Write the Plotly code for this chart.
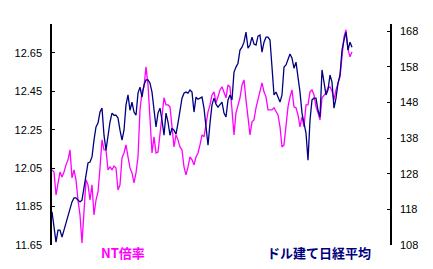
import plotly.graph_objects as go

# NT倍率 (left axis)
nt_ratio = [
    12.041, 12.030, 11.910, 11.978, 12.030, 12.004, 12.030, 12.067, 12.093, 12.145,
    11.999, 12.041, 11.989, 11.884, 11.806, 11.660, 11.858, 11.989, 11.963, 11.884,
    11.963, 11.806, 11.884, 11.926, 12.051, 12.197, 12.145, 12.145, 12.041, 12.056,
    12.041, 12.061, 12.051, 11.936, 11.963, 12.103, 12.129, 12.171, 12.108, 12.051,
    12.025, 11.973, 12.025, 12.108, 12.353, 12.447, 12.473, 12.577, 12.483, 12.301,
    12.129, 12.213, 12.129, 12.134, 12.233, 12.301, 12.416, 12.379, 12.379, 12.369,
    12.249, 12.160, 12.223, 12.197, 12.160, 12.145, 12.056, 12.015, 12.056, 12.108,
    12.093, 12.067, 12.108, 12.129, 12.171, 12.223, 12.213, 12.291, 12.343, 12.379,
    12.431, 12.447, 12.390, 12.421, 12.457, 12.473, 12.442, 12.416, 12.483, 12.473,
    12.353, 12.223, 12.338, 12.379, 12.416, 12.483, 12.509, 12.405, 12.317, 12.223,
    12.291, 12.301, 12.364, 12.405, 12.447, 12.494, 12.447, 12.421, 12.353, 12.353,
    12.353, 12.364, 12.343, 12.327, 12.265, 12.160, 12.171, 12.285, 12.369, 12.421,
    12.457, 12.369, 12.364, 12.327, 12.265, 12.317, 12.265, 12.379, 12.379, 12.447,
    12.457, 12.431, 12.369, 12.338, 12.301, 12.416, 12.431, 12.442, 12.468, 12.473,
    12.452, 12.405, 12.457, 12.499, 12.525, 12.629, 12.733, 12.770, 12.666, 12.629,
    12.655,
]

# ドル建て日経平均 (right axis)
nikkei_usd = [
    117.3, 113.0, 108.8, 112.2, 112.2, 110.2, 112.2, 113.6, 115.9, 117.8,
    120.1, 121.2, 121.2, 120.6, 120.1, 120.6, 124.0, 126.8, 131.0, 131.3,
    132.7, 137.4, 141.1, 142.2, 145.3, 146.4, 138.8, 134.6, 139.4, 142.5,
    145.0, 144.4, 144.4, 143.6, 140.2, 137.4, 140.2, 147.3, 150.1, 145.8,
    148.1, 145.3, 144.4, 150.6, 152.3, 149.5, 152.9, 154.3, 154.3, 153.4,
    150.9, 146.4, 141.1, 145.0, 146.4, 143.0, 138.8, 145.0, 142.5, 138.8,
    140.8, 140.2, 139.1, 142.2, 146.4, 149.2, 150.6, 150.9, 150.6, 151.5,
    150.9, 145.3, 149.5, 148.9, 149.2, 149.5, 146.4, 141.1, 136.0, 142.2,
    147.3, 149.2, 147.5, 146.7, 147.3, 148.1, 145.0, 143.9, 148.7, 150.1,
    148.7, 156.5, 157.9, 159.0, 162.7, 163.5, 164.9, 167.7, 163.2, 164.1,
    166.3, 164.4, 164.1, 166.6, 166.9, 162.1, 164.9, 166.3, 166.3, 165.5,
    157.9, 150.1, 150.9, 149.5, 148.1, 150.1, 157.9, 158.5, 160.4, 161.6,
    160.4, 157.6, 159.3, 155.7, 150.9, 145.0, 142.2, 139.4, 131.8, 143.0,
    148.7, 149.2, 149.2, 145.8, 143.9, 157.1, 153.7, 150.1, 151.5, 155.7,
    153.7, 146.4, 149.2, 153.4, 155.7, 162.7, 165.5, 167.7, 162.7, 164.9,
    163.5,
]

days = list(range(len(nt_ratio)))

left_ticks = [11.65, 11.85, 12.05, 12.25, 12.45, 12.65]
right_ticks = [108, 118, 128, 138, 148, 158, 168]

fig = go.Figure()
fig.add_trace(go.Scatter(x=days, y=nikkei_usd, mode="lines", yaxis="y2",
                         line=dict(color="#000080", width=1.3), name="ドル建て日経平均"))
fig.add_trace(go.Scatter(x=days, y=nt_ratio, mode="lines", yaxis="y",
                         line=dict(color="#FF00FF", width=1.3), name="NT倍率"))

tickfont = dict(family="Liberation Sans, Arial, sans-serif", size=11, color="black")

fig.update_layout(
    width=433, height=269,
    margin=dict(l=52, r=43, t=24, b=24),
    paper_bgcolor="white", plot_bgcolor="white",
    showlegend=False,
    xaxis=dict(range=[0, 169], visible=False, showgrid=False, zeroline=False),
    yaxis=dict(range=[11.65, 12.80], tickvals=left_ticks, ticktext=[f"{v:.2f}" for v in left_ticks],
               showline=True, linecolor="black", linewidth=1.5, ticks="inside", ticklen=3,
               tickcolor="black", showgrid=False, zeroline=False, tickfont=tickfont,
               ticklabelstandoff=6),
    yaxis2=dict(range=[108, 170], tickvals=right_ticks, overlaying="y", side="right",
                showline=True, linecolor="black", linewidth=1.5, ticks="inside", ticklen=3,
                tickcolor="black", showgrid=False, zeroline=False, tickfont=tickfont,
                ticklabelstandoff=6),
    annotations=[
        dict(text="<b>NT倍率</b>", x=0.21, y=-0.036, xref="paper", yref="paper",
             showarrow=False, xanchor="center", yanchor="middle",
             font=dict(family="Noto Sans CJK JP", size=13, color="#FF00FF")),
        dict(text="<b>ドル建て日経平均</b>", x=0.791, y=-0.036, xref="paper", yref="paper",
             showarrow=False, xanchor="center", yanchor="middle",
             font=dict(family="Noto Sans CJK JP", size=13, color="#000080")),
    ],
)

fig.write_html("out.html")
